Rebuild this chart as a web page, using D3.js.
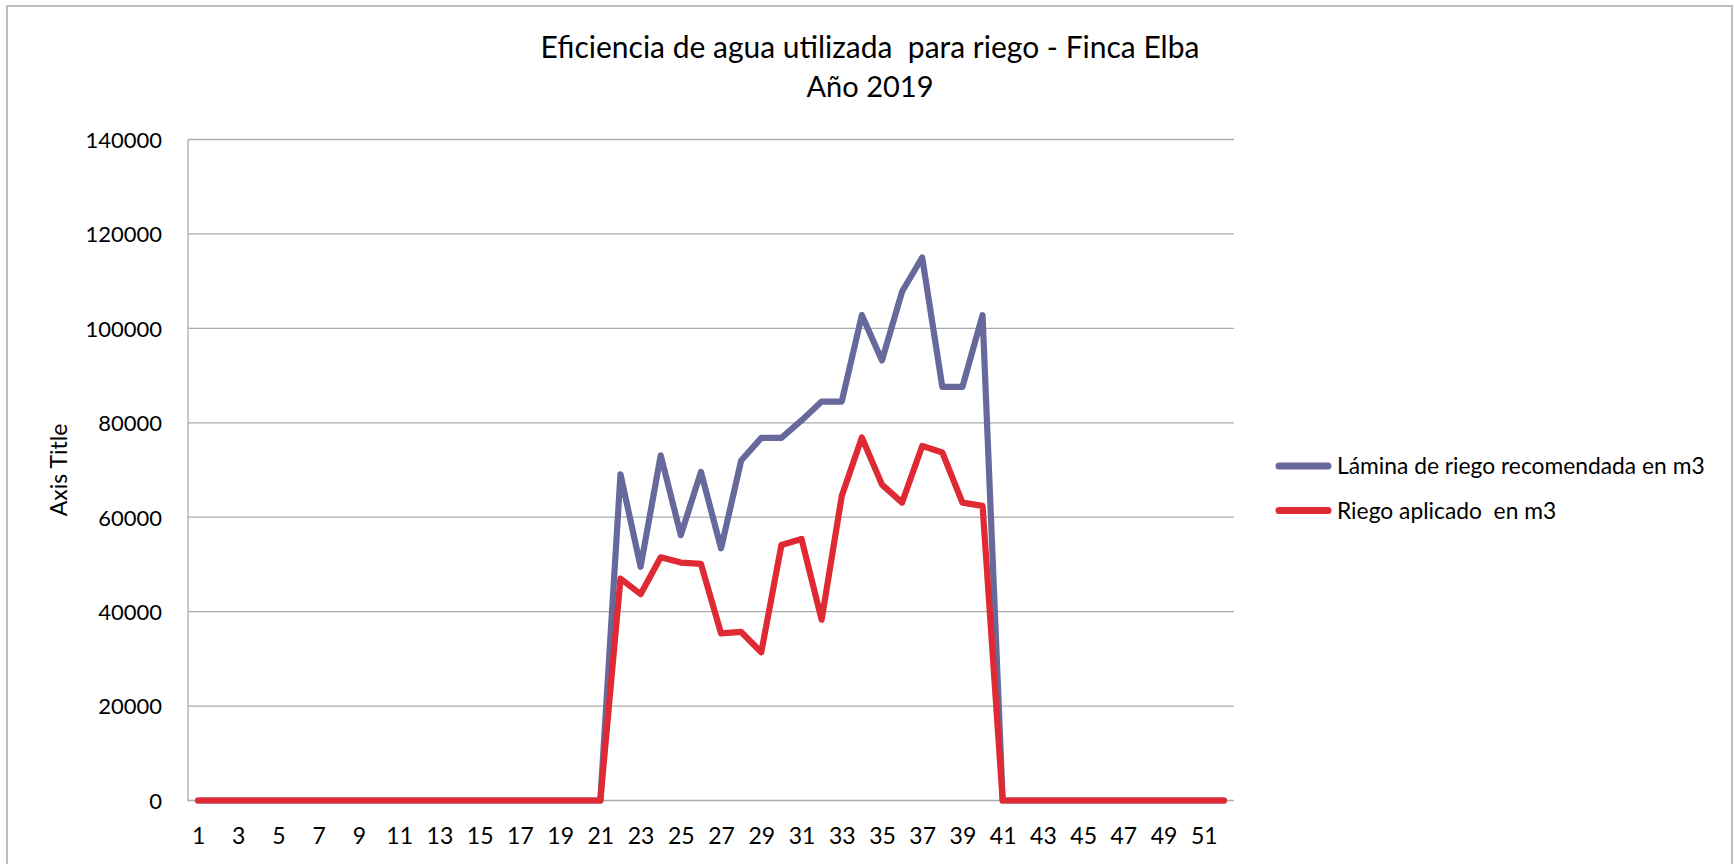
<!DOCTYPE html>
<html>
<head>
<meta charset="utf-8">
<script src="https://cdn.jsdelivr.net/npm/d3@7"></script>
<style>
  html, body { margin: 0; padding: 0; background: #fff; }
  svg { display: block; }
  text { font-family: Lato, "Open Sans", sans-serif; fill: #000; white-space: pre; }
</style>
</head>
<body>
<svg id="chart" width="1734" height="864"></svg>
<script>
const titleLines = ["Eficiencia de agua utilizada  para riego - Finca Elba", "Año 2019"];
const yAxisTitle = "Axis Title";
const weeks = [1,2,3,4,5,6,7,8,9,10,11,12,13,14,15,16,17,18,19,20,21,22,23,24,25,26,27,28,29,30,31,32,33,34,35,36,37,38,39,40,41,42,43,44,45,46,47,48,49,50,51,52];
const recomendada = [0,0,0,0,0,0,0,0,0,0,0,0,0,0,0,0,0,0,0,0,0,
  69100,49500,73100,56200,69600,53400,72000,76800,76800,80500,84500,84500,102800,93200,107800,115000,87600,87600,102800,
  0,0,0,0,0,0,0,0,0,0,0,0];
const aplicado = [0,0,0,0,0,0,0,0,0,0,0,0,0,0,0,0,0,0,0,0,0,
  47000,43700,51500,50400,50100,35400,35700,31400,54100,55400,38300,64500,76900,66900,63100,75100,73700,63100,62400,
  0,0,0,0,0,0,0,0,0,0,0,0];
const seriesNames = ["Lámina de riego recomendada en m3", "Riego aplicado  en m3"];
const seriesColors = ["#67689B", "#DF2A33"];
const yTicks = [0,20000,40000,60000,80000,100000,120000,140000];
const xTickLabels = [1,3,5,7,9,11,13,15,17,19,21,23,25,27,29,31,33,35,37,39,41,43,45,47,49,51];

const svg = d3.select("#chart");

// chart border
svg.append("rect").attr("x", 7).attr("y", 6).attr("width", 1725).attr("height", 880)
  .attr("fill", "none").attr("stroke", "#BFBFBF").attr("stroke-width", 2);

const plot = { left: 188, right: 1234, top: 139.5, bottom: 800.5 };

const x = d3.scalePoint().domain(weeks).range([plot.left, plot.right]).padding(0.5);
const y = d3.scaleLinear().domain([0, 140000]).range([plot.bottom, plot.top]);

// gridlines
svg.append("g").selectAll("line").data(yTicks).join("line")
  .attr("x1", plot.left).attr("x2", plot.right)
  .attr("y1", d => y(d)).attr("y2", d => y(d))
  .attr("stroke", "#ABABAB").attr("stroke-width", 1.3);

// y axis line
svg.append("line").attr("x1", plot.left).attr("x2", plot.left)
  .attr("y1", plot.top).attr("y2", plot.bottom + 1)
  .attr("stroke", "#ABABAB").attr("stroke-width", 1.3);

// y axis labels via d3 axis
const yAxis = d3.axisLeft(y).tickValues(yTicks).tickFormat(d3.format("d")).tickSize(0).tickPadding(0);
const gy = svg.append("g").attr("transform", `translate(${plot.left - 26},0)`).call(yAxis);
gy.select(".domain").remove();
gy.selectAll("text").attr("font-size", 22).attr("font-family", "Lato").attr("fill", "#000").attr("dy", "0.36em");

// x axis labels
const xAxis = d3.axisBottom(x).tickValues(xTickLabels).tickSize(0).tickPadding(0);
const gx = svg.append("g").attr("transform", `translate(0,${plot.bottom})`).call(xAxis);
gx.select(".domain").remove();
gx.selectAll("text").attr("font-size", 23).attr("font-family", "Lato").attr("fill", "#000")
  .attr("dy", null).attr("y", 43);

// title
svg.append("text").attr("x", 870).attr("y", 58).attr("text-anchor", "middle")
  .attr("font-size", 30).text(titleLines[0]);
svg.append("text").attr("x", 870).attr("y", 97).attr("text-anchor", "middle")
  .attr("font-size", 29).text(titleLines[1]);

// axis title
svg.append("text").attr("transform", `translate(67,${(plot.top + plot.bottom) / 2}) rotate(-90)`)
  .attr("text-anchor", "middle").attr("font-size", 23).text(yAxisTitle);

// lines
const line = d3.line().x((d, i) => x(weeks[i])).y(d => y(d));
[recomendada, aplicado].forEach((s, k) => {
  svg.append("path").datum(s).attr("d", line)
    .attr("fill", "none").attr("stroke", seriesColors[k]).attr("stroke-width", 6.2)
    .attr("stroke-linejoin", "round").attr("stroke-linecap", "round");
});

// legend
const legendY = [466, 510.5];
const lg = svg.append("g");
seriesNames.forEach((name, k) => {
  lg.append("line").attr("x1", 1279).attr("x2", 1328).attr("y1", legendY[k]).attr("y2", legendY[k])
    .attr("stroke", seriesColors[k]).attr("stroke-width", 7).attr("stroke-linecap", "round");
  lg.append("text").attr("x", 1337).attr("y", legendY[k]).attr("dy", "0.36em")
    .attr("font-size", 22.8).text(name);
});
</script>
</body>
</html>
